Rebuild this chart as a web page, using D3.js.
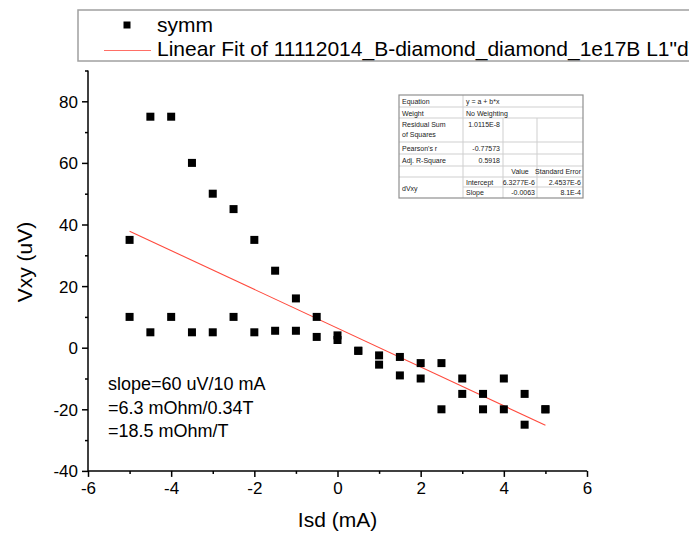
<!DOCTYPE html>
<html>
<head>
<meta charset="utf-8">
<script src="https://cdn.jsdelivr.net/npm/d3@7"></script>
<style>
  html, body { margin: 0; padding: 0; background: #fff; }
  svg { display: block; font-family: "Liberation Sans", Arial, sans-serif; }
</style>
</head>
<body>
<svg id="chart" width="689" height="534"></svg>
<script>
// ---- data ----
const isd = [-5, -4.5, -4, -3.5, -3, -2.5, -2, -1.5, -1, -0.5, 0, 0.5, 1, 1.5, 2, 2.5, 3, 3.5, 4, 4.5, 5];
const vxyA = [35, 75, 75, 60, 50, 45, 35, 25, 16, 10, 4, -1, -2.5, -3, -5, -5, -10, -15, -10, -15, -20];
const vxyB = [10, 5, 10, 5, 5, 10, 5, 5.5, 5.5, 3.5, 2.5, -1, -5.5, -9, -10, -20, -15, -20, -20, -25, -20];
const fitIntercept = [6.3277];   // uV
const fitSlope = [-6.3];         // uV per mA
const fitRange = [-5, 5];
const xTicks = [-6, -4, -2, 0, 2, 4, 6];
const xMinor = [-5, -3, -1, 1, 3, 5];
const yTicks = [-40, -20, 0, 20, 40, 60, 80];
const yMinor = [-30, -10, 10, 30, 50, 70, 90];
const legendLabels = ["symm", "Linear Fit of 11112014_B-diamond_diamond_1e17B L1\"dVxy\""];
const noteLines = ["slope=60 uV/10 mA", "=6.3 mOhm/0.34T", "=18.5 mOhm/T"];
const tableRows = [
  ["Equation", "y = a + b*x"],
  ["Weight", "No Weighting"],
  ["Residual Sum|of Squares", "1.0115E-8"],
  ["Pearson's r", "-0.77573"],
  ["Adj. R-Square", "0.5918"]
];
const tableHeader = ["", "", "Value", "Standard Error"];
const tableParams = [["Intercept", "6.3277E-6", "2.4537E-6"], ["Slope", "-0.0063", "8.1E-4"]];
const tableGroup = ["dVxy"];

const points = isd.map((x, i) => ({x, y: vxyA[i]})).concat(isd.map((x, i) => ({x, y: vxyB[i]})));

const svg = d3.select("#chart");
const x = d3.scaleLinear().domain([-6, 6]).range([88, 587]);
const y = d3.scaleLinear().domain([-40, 90]).range([470.9, 70.5]);
const fmt = d => String(d);

// axes
const gx = svg.append("g").attr("transform", `translate(0,${y(-40)})`);
gx.call(d3.axisBottom(x).tickValues(xTicks).tickSize(6).tickPadding(5).tickFormat(fmt));
const gxm = svg.append("g").attr("transform", `translate(0,${y(-40)})`);
gxm.call(d3.axisBottom(x).tickValues(xMinor).tickSize(3).tickFormat(""));
const gy = svg.append("g").attr("transform", `translate(${x(-6)},0)`);
gy.call(d3.axisLeft(y).tickValues(yTicks).tickSize(6).tickPadding(4).tickFormat(fmt));
const gym = svg.append("g").attr("transform", `translate(${x(-6)},0)`);
gym.call(d3.axisLeft(y).tickValues(yMinor).tickSize(3).tickFormat(""));
[gx, gxm, gy, gym].forEach(g => {
  g.select(".domain").attr("stroke", "#000").attr("stroke-width", 1.5);
  g.selectAll(".tick line").attr("stroke", "#000").attr("stroke-width", 1.5);
  g.selectAll(".tick text").attr("fill", "#000").style("font-size", "17px")
    .style("font-family", "'Liberation Sans', Arial, sans-serif");
});
gxm.select(".domain").remove();
gym.select(".domain").remove();
gx.select(".domain").attr("d", `M${x(-6)},0H${x(6)}`);
gy.select(".domain").attr("d", `M0,${y(90)}V${y(-40)}`);
gy.selectAll(".tick text").attr("dy", "0.35em");

// axis titles
svg.append("text").attr("x", (x(-6) + x(6)) / 2).attr("y", 527).attr("text-anchor", "middle")
  .style("font-size", "21px").text("Isd (mA)");
svg.append("text").attr("transform", `translate(32,262) rotate(-90)`)
  .attr("text-anchor", "middle").style("font-size", "21px").text("Vxy (uV)");

// fit line
svg.append("line")
  .attr("x1", x(fitRange[0])).attr("y1", y(fitIntercept[0] + fitSlope[0] * fitRange[0]))
  .attr("x2", x(fitRange[1])).attr("y2", y(fitIntercept[0] + fitSlope[0] * fitRange[1]))
  .attr("stroke", "#ff4a3d").attr("stroke-width", 1.1);

// points
const s = 8;
svg.append("g").selectAll("rect").data(points).join("rect")
  .attr("x", d => x(d.x) - s / 2).attr("y", d => y(d.y) - s / 2)
  .attr("width", s).attr("height", s).attr("fill", "#000");

// annotation
svg.append("g").selectAll("text").data(noteLines).join("text")
  .attr("x", 108).attr("y", (d, i) => 390 + i * 23.5)
  .style("font-size", "18px").attr("fill", "#000").text(d => d);

// legend
const lg = svg.append("g");
lg.append("rect").attr("x", 78).attr("y", 10).attr("width", 700).attr("height", 51)
  .attr("fill", "#fff").attr("stroke", "#a0a0a0").attr("stroke-width", 1.5);
lg.append("rect").attr("x", 123.5).attr("y", 21.5).attr("width", 7).attr("height", 7).attr("fill", "#000");
lg.append("line").attr("x1", 104).attr("x2", 151).attr("y1", 50.5).attr("y2", 50.5)
  .attr("stroke", "#ff6f66").attr("stroke-width", 1.2);
lg.selectAll("text").data(legendLabels).join("text")
  .attr("x", 157).attr("y", (d, i) => 32 + i * 24)
  .style("font-size", "21px").attr("fill", "#000").text(d => d);

// stats table
const tx = [399, 463, 503, 537, 583];
const rowY = [95, 107, 118, 142, 154, 166, 177, 187, 198];
const tg = svg.append("g").style("font-size", "7px").attr("fill", "#222");
tg.append("rect").attr("x", tx[0]).attr("y", rowY[0]).attr("width", tx[4] - tx[0]).attr("height", rowY[8] - rowY[0])
  .attr("fill", "#fff");
// inner lines
const inner = "#cfcfcf";
for (let r = 1; r < 8; r++) {
  const x0 = (r === 7) ? tx[1] : tx[0];
  tg.append("line").attr("x1", x0).attr("x2", tx[4]).attr("y1", rowY[r]).attr("y2", rowY[r])
    .attr("stroke", inner).attr("stroke-width", 1);
}
tg.append("line").attr("x1", tx[1]).attr("x2", tx[1]).attr("y1", rowY[0]).attr("y2", rowY[8]).attr("stroke", inner);
[tx[2], tx[3]].forEach(cx => tg.append("line").attr("x1", cx).attr("x2", cx)
  .attr("y1", rowY[2]).attr("y2", rowY[8]).attr("stroke", inner));
tg.append("rect").attr("x", tx[0]).attr("y", rowY[0]).attr("width", tx[4] - tx[0]).attr("height", rowY[8] - rowY[0])
  .attr("fill", "none").attr("stroke", "#909090").attr("stroke-width", 1.2);

tableRows.forEach((row, r) => {
  const lines = row[0].split("|");
  lines.forEach((t, k) => tg.append("text").attr("x", tx[0] + 3).attr("y", rowY[r] + 8.5 + k * 10).text(t));
  const v = tg.append("text").attr("y", rowY[r] + 8.5).text(row[1]);
  if (r < 2) v.attr("x", tx[1] + 3);
  else v.attr("x", tx[2] - 3).attr("text-anchor", "end");
});
tg.append("text").attr("x", (tx[2] + tx[3]) / 2).attr("y", rowY[5] + 8).attr("text-anchor", "middle").text(tableHeader[2]);
tg.append("text").attr("x", tx[4] - 2).attr("y", rowY[5] + 8).attr("text-anchor", "end").text(tableHeader[3]);
tg.append("text").attr("x", tx[0] + 3).attr("y", (rowY[6] + rowY[8]) / 2 + 3).text(tableGroup[0]);
tableParams.forEach((p, i) => {
  const yy = rowY[6 + i] + 8;
  tg.append("text").attr("x", tx[1] + 3).attr("y", yy).text(p[0]);
  tg.append("text").attr("x", tx[3] - 2).attr("y", yy).attr("text-anchor", "end").text(p[1]);
  tg.append("text").attr("x", tx[4] - 2).attr("y", yy).attr("text-anchor", "end").text(p[2]);
});
</script>
</body>
</html>
